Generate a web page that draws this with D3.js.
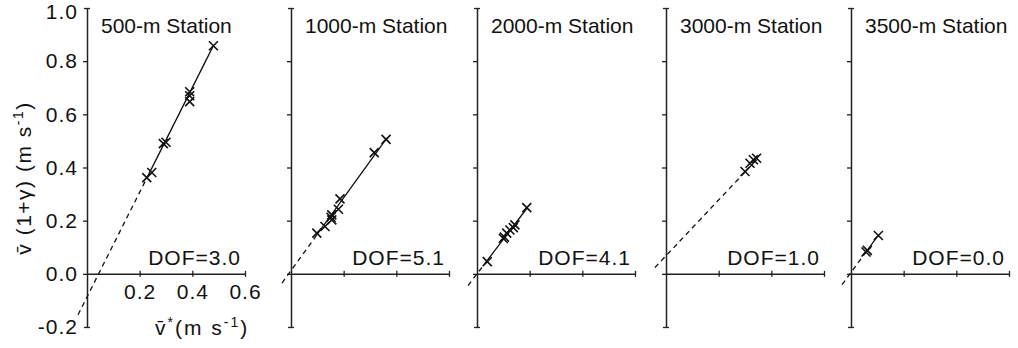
<!DOCTYPE html>
<html>
<head>
<meta charset="utf-8">
<script src="https://cdn.jsdelivr.net/npm/d3@7"></script>
<style>
    body { margin: 0; background: #fff; }
    svg { display: block; }
    text { font-family: "Liberation Sans", Arial, sans-serif; fill: #111; }
</style>
</head>
<body>
<div id="chart"></div>
<script>
// data
const stations = ["500-m Station", "1000-m Station", "2000-m Station", "3000-m Station", "3500-m Station"];
const dofLabels = ["DOF=3.0", "DOF=5.1", "DOF=4.1", "DOF=1.0", "DOF=0.0"];

const xVals = [
    [0.48, 0.39, 0.39, 0.39, 0.29, 0.30, 0.227, 0.246],
    [0.361, 0.316, 0.186, 0.18, 0.155, 0.152, 0.155, 0.129, 0.098],
    [0.189, 0.144, 0.138, 0.125, 0.113, 0.104, 0.10, 0.039],
    [0.30, 0.319, 0.332, 0.344],
    [0.104, 0.057, 0.062]
];
const yVals = [
    [0.858, 0.685, 0.67, 0.648, 0.49, 0.495, 0.362, 0.381],
    [0.506, 0.456, 0.282, 0.243, 0.222, 0.213, 0.203, 0.178, 0.153],
    [0.249, 0.184, 0.174, 0.165, 0.153, 0.138, 0.133, 0.046],
    [0.385, 0.416, 0.429, 0.435],
    [0.144, 0.082, 0.088]
];

// fitted lines: y = a + b*x, dashed from dashStart up to the first point
const fitA = [-0.087, 0.012, 0.0, 0.068, 0.005];
const fitB = [1.97, 1.37, 1.3, 1.05, 1.35];
const dashStart = [-0.034, -0.034, -0.034, -0.042, -0.034];

const yTicks = [-0.2, 0.0, 0.2, 0.4, 0.6, 0.8, 1.0];
const xTicks = [0.2, 0.4, 0.6];

let width = 1018;
let height = 348;

let panelX = [87, 291, 477, 666, 851];
let panelW = 158;
let yTop = 8;
let yBottom = 327;

// tick labels use a plain hyphen like the original
let fmt = function(d) { return d.toFixed(1); };

let svg = d3.select("#chart")
    .append("svg")
    .attr("width", width)
    .attr("height", height);

let y = d3.scaleLinear()
    .domain([-0.2, 1.0])
    .range([yBottom, yTop]);

for (let p = 0; p < stations.length; p++) {
    let x0 = panelX[p];
    let x = d3.scaleLinear()
        .domain([0, 0.6])
        .range([x0, x0 + panelW]);

    let g = svg.append("g");

    // y axis
    let axY = g.append("g")
        .attr("transform", `translate(${x0},0)`)
        .call(d3.axisLeft(y).tickValues(yTicks).tickSizeInner(4).tickSizeOuter(0)
            .tickFormat(p == 0 ? fmt : ""));
    axY.select(".domain").attr("stroke", "#222").attr("stroke-width", 1.5);
    axY.selectAll(".tick line")
        .attr("stroke", "#222").attr("stroke-width", 1.3)
        .attr("x1", d => (d == 1.0 || d == -0.2) ? 3 : 0)
        .attr("x2", d => (d == 1.0 || d == -0.2) ? -3 : -4);
    axY.selectAll(".tick text")
        .attr("x", -9)
        .attr("dy", d => d == 1.0 ? "0.5em" : "0.32em")
        .style("font-size", "21px")
        .style("letter-spacing", "1px")
        .style("fill", "#111");

    // x axis
    let axX = g.append("g")
        .attr("transform", `translate(0,${y(0)})`)
        .call(d3.axisBottom(x).tickValues(xTicks).tickSizeInner(3).tickSizeOuter(0)
            .tickFormat(p == 0 ? fmt : ""));
    axX.select(".domain").attr("stroke", "#222").attr("stroke-width", 1.5);
    axX.selectAll(".tick line")
        .attr("stroke", "#222").attr("stroke-width", 1.3)
        .attr("y1", -3);
    axX.selectAll(".tick text")
        .attr("y", 10)
        .style("font-size", "21px")
        .style("letter-spacing", "1px")
        .style("fill", "#111");

    // fitted line
    let xs = xVals[p];
    let ys = yVals[p];
    let xMin = d3.min(xs);
    let xMax = d3.max(xs);
    let line = d3.line()
        .x(d => x(d))
        .y(d => y(fitA[p] + fitB[p] * d));

    g.append("path")
        .datum([dashStart[p], xMin])
        .attr("fill", "none")
        .attr("stroke", "#111")
        .attr("stroke-width", 1.3)
        .attr("stroke-dasharray", "5,4")
        .attr("d", line);

    g.append("path")
        .datum([xMin, xMax])
        .attr("fill", "none")
        .attr("stroke", "#111")
        .attr("stroke-width", 1.3)
        .attr("d", line);

    // x markers
    let pts = xs.map((d, i) => [d, ys[i]]);
    let s = 4.5;
    g.selectAll(".mark")
        .data(pts)
        .enter().append("path")
        .attr("fill", "none")
        .attr("stroke", "#111")
        .attr("stroke-width", 1.6)
        .attr("d", d => {
            let cx = x(d[0]), cy = y(d[1]);
            return `M${cx - s},${cy - s}L${cx + s},${cy + s}M${cx - s},${cy + s}L${cx + s},${cy - s}`;
        });

    // title
    g.append("text")
        .attr("x", x0 + 14)
        .attr("y", 33)
        .style("font-size", "21px")
        .text(stations[p]);

    // DOF
    g.append("text")
        .attr("x", x(0.6) - 4)
        .attr("y", 265)
        .attr("text-anchor", "end")
        .style("font-size", "21px")
        .style("letter-spacing", "1px")
        .text(dofLabels[p]);
}

// axis titles
let yLab = svg.append("text")
    .attr("transform", "translate(31,178) rotate(-90)")
    .attr("text-anchor", "middle")
    .style("font-size", "21px")
    .style("letter-spacing", "1.5px");
yLab.append("tspan").text("v\u0304 (1+\u03b3)  (m s");
yLab.append("tspan").attr("dy", -8).style("font-size", "14px").text("-1");
yLab.append("tspan").attr("dy", 8).text(")");

let xLab = svg.append("text")
    .attr("x", 155)
    .attr("y", 335)
    .style("font-size", "21px")
    .style("letter-spacing", "2px");
xLab.append("tspan").text("v\u0304");
xLab.append("tspan").attr("dy", -8).style("font-size", "14px").text("*");
xLab.append("tspan").attr("dy", 8).text("(m s");
xLab.append("tspan").attr("dy", -8).style("font-size", "14px").text("-1");
xLab.append("tspan").attr("dy", 8).text(")");
</script>
</body>
</html>
